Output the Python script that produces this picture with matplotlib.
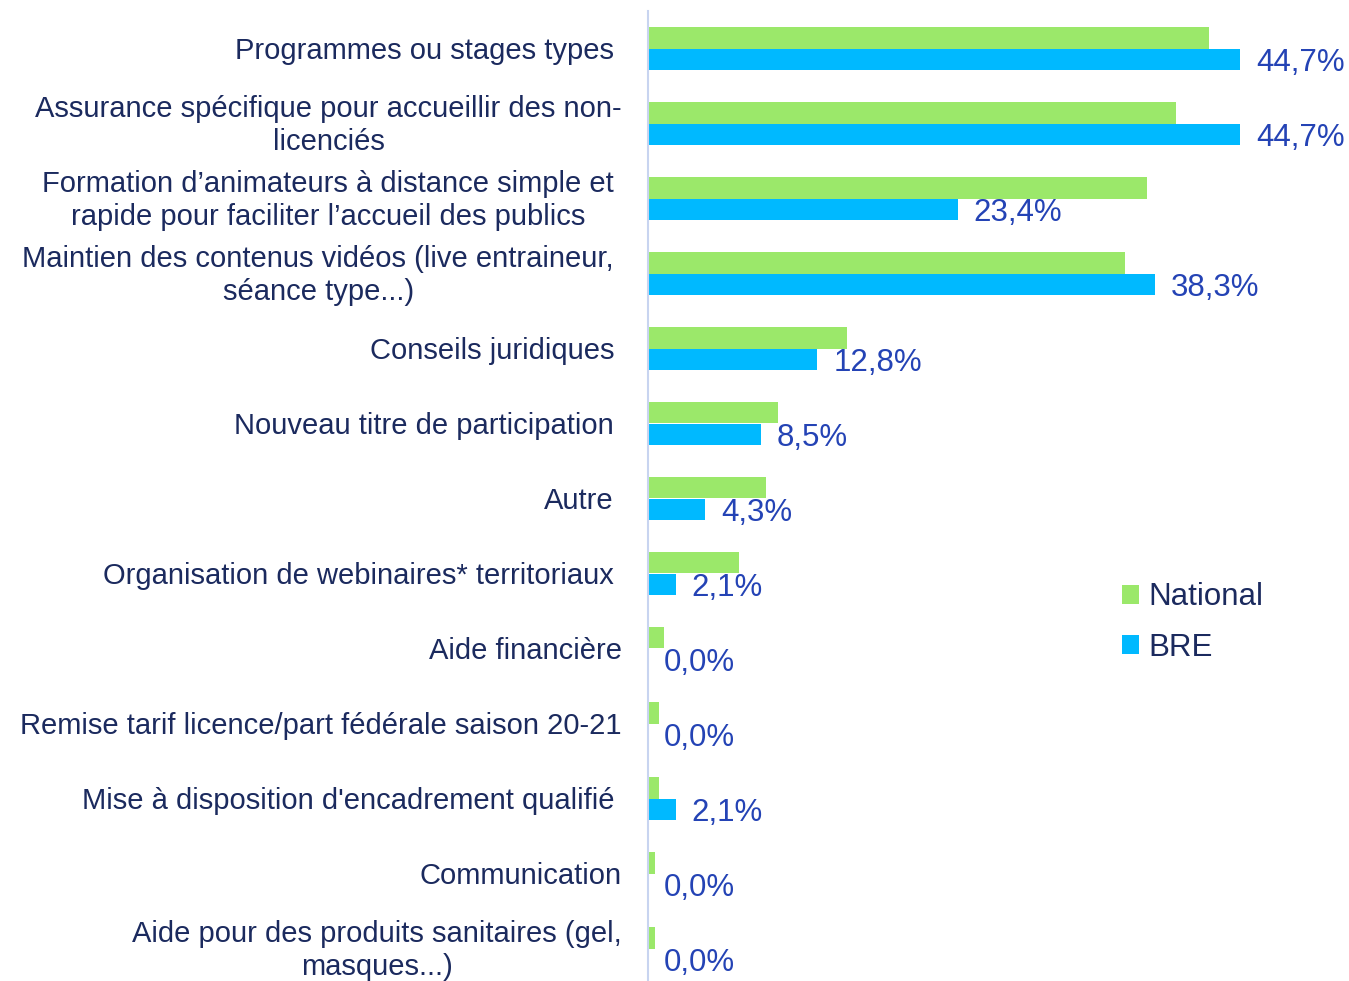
import matplotlib
matplotlib.use("Agg")
import matplotlib.pyplot as plt

categories = [
    "Programmes ou stages types",
    "Assurance spécifique pour accueillir des non-\nlicenciés",
    "Formation d’animateurs à distance simple et\nrapide pour faciliter l’accueil des publics",
    "Maintien des contenus vidéos (live entraineur,\nséance type...)",
    "Conseils juridiques",
    "Nouveau titre de participation",
    "Autre",
    "Organisation de webinaires* territoriaux",
    "Aide financière",
    "Remise tarif licence/part fédérale saison 20-21",
    "Mise à disposition d'encadrement qualifié",
    "Communication",
    "Aide pour des produits sanitaires (gel,\nmasques...)",
]
national = [42.4, 39.9, 37.7, 36.0, 15.0, 9.8, 8.9, 6.9, 1.2, 0.8, 0.8, 0.5, 0.5]
bre = [44.7, 44.7, 23.4, 38.3, 12.8, 8.5, 4.3, 2.1, 0.0, 0.0, 2.1, 0.0, 0.0]
series_names = ["National", "BRE"]

GREEN = "#9BE86A"
BLUE = "#00B9FF"
NAVY = "#1B2A5E"
VALBLUE = "#2443B5"

plt.rcParams["font.family"] = ["Liberation Sans", "DejaVu Sans"]

W, H = 1349, 981
fig = plt.figure(figsize=(W / 100, H / 100), dpi=100)
ax_left = 648 / W
ax_top_px, ax_bot_px = 11, 981
ax = fig.add_axes([ax_left, 1 - ax_bot_px / H, 1 - ax_left, (ax_bot_px - ax_top_px) / H])

n = len(categories)
pos = list(range(n))
bh = 0.287
ax.barh([p - bh / 2 for p in pos], national, height=bh, color=GREEN, label=series_names[0])
ax.barh([p + bh / 2 for p in pos], bre, height=bh, color=BLUE, label=series_names[1])

units = (ax_bot_px - ax_top_px) / 75.0
ax.set_ylim(-0.5 + units, -0.5)
ax.set_xlim(0, (W - 648) / 13.24)

for s in ["top", "right", "bottom"]:
    ax.spines[s].set_visible(False)
ax.spines["left"].set_color("#C8D4F0")
ax.spines["left"].set_linewidth(1.5)
ax.set_xticks([])
ax.set_yticks([])

# value labels
for p, v in zip(pos, bre):
    ax.annotate(f"{v:.1f}%".replace(".", ","), xy=(v, p + bh / 2), xytext=(11.5, -2.5),
                textcoords="offset points", ha="left", va="center",
                fontsize=22.5, color=VALBLUE)

# category labels
wide = {1, 8, 9, 11, 12}
for p, lab in zip(pos, categories):
    off = -(648 - 622) if p in wide else -(648 - 614)
    ax.annotate(lab, xy=(0, p), xytext=(off * 0.72, -1.5), textcoords="offset points",
                ha="right", va="center", multialignment="center",
                fontsize=21, color=NAVY, linespacing=1.2)

leg = ax.legend(loc="center left",
                bbox_to_anchor=((1122 - 648) / (W - 648), 1 - (622.5 - 11) / (ax_bot_px - ax_top_px)),
                frameon=False, fontsize=22.5, handlelength=0.55, handleheight=0.55,
                handletextpad=0.3, labelspacing=0.66, borderaxespad=0, borderpad=0)
for t in leg.get_texts():
    t.set_color(NAVY)

fig.savefig("out.png", dpi=100)
